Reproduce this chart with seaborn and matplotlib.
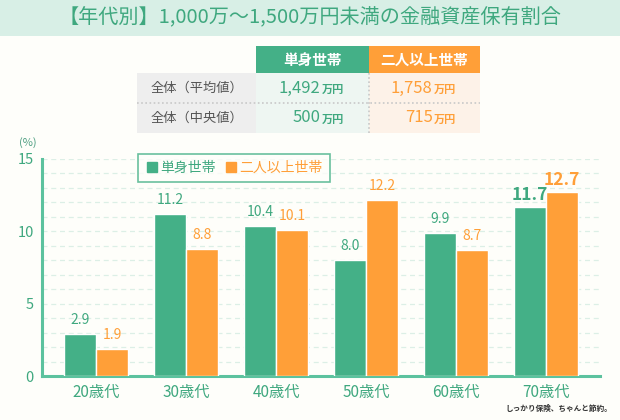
import matplotlib
matplotlib.use("Agg")
import matplotlib.pyplot as plt
import matplotlib.patches as mpatches
from matplotlib.lines import Line2D
import seaborn as sns
import pandas as pd

ages = ["20歳代", "30歳代", "40歳代", "50歳代", "60歳代", "70歳代"]
single = [2.9, 11.2, 10.4, 8.0, 9.9, 11.7]
multi = [1.9, 8.8, 10.1, 12.2, 8.7, 12.7]
series_names = ["単身世帯", "二人以上世帯"]
row_labels = ["全体（平均値）", "全体（中央値）"]
single_table = ["1,492", "500"]
multi_table = ["1,758", "715"]
title = "【年代別】1,000万～1,500万円未満の金融資産保有割合"

GREEN = "#44b087"
ORANGE = "#ff9f38"
BG = "#fefefa"
TXT_GREEN = "#3fa87f"

sns.set_theme(style="white")
plt.rcParams['font.family'] = ['Noto Sans CJK JP', 'DejaVu Sans']

W, H = 620, 420
fig = plt.figure(figsize=(6.2, 4.2), dpi=100, facecolor=BG)

def fx(x): return x / W
def fy(y): return 1 - y / H

# title band
fig.patches.append(mpatches.Rectangle((0, fy(36)), 1, 36 / H, transform=fig.transFigure,
                                      facecolor="#d8efe6", edgecolor="none", zorder=0))
fig.text(0.5, fy(18), title, ha="center", va="center", fontsize=14.5, color=TXT_GREEN)

# table
cols = [(137, 256), (256, 369), (369, 480)]
rows = [(46, 73), (73, 103), (103, 133)]
def rect(x0, x1, y0, y1, color):
    fig.patches.append(mpatches.Rectangle((fx(x0), fy(y1)), fx(x1 - x0), (y1 - y0) / H,
                                          transform=fig.transFigure, facecolor=color,
                                          edgecolor="none", zorder=0))
rect(*cols[1], *rows[0], GREEN)
rect(*cols[2], *rows[0], ORANGE)
for r in rows[1:]:
    rect(*cols[0], *r, "#eeeeee")
    rect(*cols[1], *r, "#eef6f2")
    rect(*cols[2], *r, "#fdf2e8")
ymid = lambda r: fy((r[0] + r[1]) / 2)
xmid = lambda c: fx((c[0] + c[1]) / 2)
fig.text(xmid(cols[1]), ymid(rows[0]), series_names[0], ha="center", va="center",
         color="white", fontsize=10.5, fontweight="bold")
fig.text(xmid(cols[2]), ymid(rows[0]), series_names[1], ha="center", va="center",
         color="white", fontsize=10.5, fontweight="bold")
for i, r in enumerate(rows[1:]):
    fig.text(xmid(cols[0]), ymid(r), row_labels[i], ha="center", va="center",
             color="#555555", fontsize=9.5)
    for c, vals, col in ((cols[1], single_table, TXT_GREEN), (cols[2], multi_table, ORANGE)):
        xm = (c[0] + c[1]) / 2
        fig.text(fx(xm + 8), ymid(r), vals[i], ha="right", va="center",
                 color=col, fontsize=12)
        fig.text(fx(xm + 9), ymid(r) - 0.003, "万円", ha="left", va="center",
                 color=col, fontsize=8, fontweight="bold")
# dotted separators
fig.add_artist(Line2D([fx(137), fx(480)], [fy(103), fy(103)], transform=fig.transFigure,
                      color="#c8c8c8", linestyle=(0, (1, 1.5)), linewidth=1.2))
fig.add_artist(Line2D([fx(369), fx(369)], [fy(73), fy(133)], transform=fig.transFigure,
                      color="#c8c8c8", linestyle=(0, (1, 1.5)), linewidth=1.2))

# chart
ax = fig.add_axes([fx(42), fy(376), fx(600 - 42), (376 - 159) / H])
ax.set_facecolor("none")
df = pd.DataFrame({
    "age": ages * 2,
    "value": single + multi,
    "series": [series_names[0]] * len(ages) + [series_names[1]] * len(ages),
})
sns.barplot(data=df, x="age", y="value", hue="series", palette=[GREEN, ORANGE],
            width=0.71, saturation=1, ax=ax, legend=False, zorder=3)
ax.set_xlim(-0.6, 5.6)
ax.set_ylim(0, 15)
ax.set_yticks([0, 5, 10, 15])
for v in range(1, 16):
    ax.axhline(v, color="#dcefe6", linestyle=(0, (4, 3)), linewidth=0.9, zorder=1)
ax.set_xlabel("")
ax.set_ylabel("")
for s in ["top", "right"]:
    ax.spines[s].set_visible(False)
for s in ["left", "bottom"]:
    ax.spines[s].set_color("#5cc29e")
    ax.spines[s].set_linewidth(2.2)
ax.tick_params(axis="both", length=0, colors=TXT_GREEN)
ax.tick_params(axis="y", labelsize=10.5, pad=6)
ax.tick_params(axis="x", labelsize=11, pad=6)
for lbl in ax.get_xticklabels():
    lbl.set_color(TXT_GREEN)

# value labels
for container, vals, col in zip(ax.containers, (single, multi), (TXT_GREEN, ORANGE)):
    for i, (bar, v) in enumerate(zip(container, vals)):
        big = i == len(vals) - 1
        ax.annotate(f"{v:.1f}", (bar.get_x() + bar.get_width() / 2, bar.get_height()),
                    xytext=(0, 5 if not big else 2), textcoords="offset points",
                    ha="center", va="bottom", color=col,
                    fontsize=12.5 if big else 10, fontweight="bold" if big else "normal",
                    annotation_clip=False)

fig.text(fx(28), fy(143), "(%)", ha="center", va="center", fontsize=8, color="#4f9f82")

# legend
handles = [Line2D([], [], marker="s", linestyle="none", color=GREEN, markersize=6.5),
           Line2D([], [], marker="s", linestyle="none", color=ORANGE, markersize=6.5)]
leg = fig.legend(handles, series_names, loc="upper left",
                 bbox_to_anchor=(fx(138), fy(154)), ncol=2, frameon=True,
                 fancybox=False, handletextpad=0.1, columnspacing=0.6,
                 borderpad=0.5, borderaxespad=0, handlelength=1.0, fontsize=10)
leg.get_frame().set_edgecolor(GREEN)
leg.get_frame().set_linewidth(1.2)
leg.get_frame().set_facecolor(BG)
for t, c in zip(leg.get_texts(), (TXT_GREEN, ORANGE)):
    t.set_color(c)

# logo text
fig.text(fx(612), fy(408), "しっかり保険、ちゃんと節約。", ha="right", va="center",
         fontsize=5.5, color="#333333", fontweight="bold")

fig.savefig("out.png", dpi=100, facecolor=BG)
